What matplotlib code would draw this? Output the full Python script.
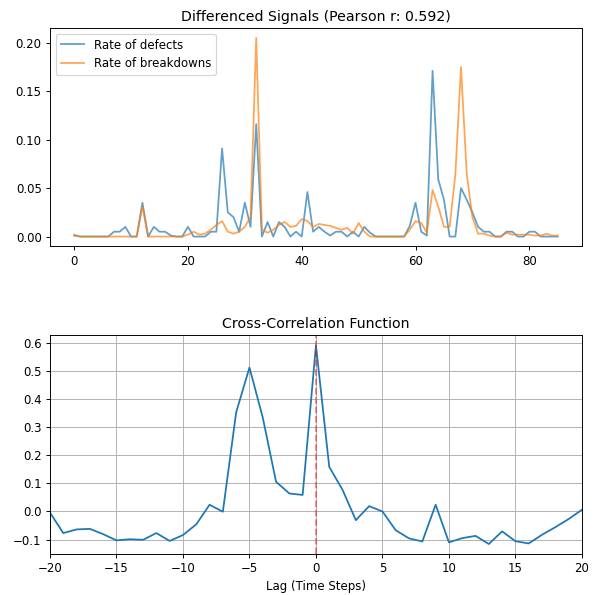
import numpy as np
import matplotlib
matplotlib.use('Agg')
import matplotlib.pyplot as plt

# differenced signals, index 0..85
defects = [0.001, 0, 0, 0, 0, 0, 0, 0.005, 0.005, 0.010,
           0, 0, 0.035, 0, 0.010, 0.005, 0.005, 0.001, 0, 0,
           0.010, 0, 0, 0, 0.005, 0.005, 0.091, 0.025, 0.020, 0.005,
           0.035, 0.010, 0.116, 0, 0.015, 0, 0.015, 0.010, 0, 0.005,
           0, 0.046, 0.005, 0.010, 0.005, 0.001, 0.005, 0.005, 0, 0.005,
           0, 0.010, 0.004, 0, 0, 0, 0, 0, 0, 0.011,
           0.035, 0.005, 0.001, 0.171, 0.059, 0.038, 0, 0, 0.050, 0.038,
           0.025, 0.010, 0.005, 0.005, 0, 0, 0.005, 0.005, 0, 0,
           0.005, 0.005, 0, 0, 0, 0]
breakdowns = [0.002, 0, 0, 0, 0, 0, 0, 0, 0, 0,
              0, 0, 0.031, 0, 0, 0, 0, 0, 0, 0,
              0.002, 0.005, 0.002, 0.003, 0.007, 0.012, 0.016, 0.005, 0.003, 0.005,
              0.010, 0.020, 0.205, 0.007, 0.004, 0.007, 0.012, 0.015, 0.010, 0.011,
              0.018, 0.016, 0.010, 0.013, 0.012, 0.011, 0.009, 0.007, 0.009, 0.003,
              0.014, 0.005, 0, 0, 0, 0, 0, 0, 0, 0.007,
              0.016, 0.014, 0.004, 0.048, 0.031, 0.010, 0.010, 0.064, 0.175, 0.065,
              0.020, 0.003, 0.003, 0.001, 0, 0, 0.004, 0.002, 0.002, 0.002,
              0.002, 0.001, 0.001, 0.003, 0.001, 0.001]

lags = list(range(-20, 21))
ccf = [-0.004, -0.077, -0.064, -0.062, -0.081, -0.103, -0.099, -0.101, -0.077, -0.105,
       -0.084, -0.046, 0.024, -0.001, 0.353, 0.513, 0.335, 0.106, 0.064, 0.059,
       0.592,
       0.159, 0.077, -0.031, 0.019, 0.000, -0.067, -0.096, -0.107, 0.024, -0.110,
       -0.095, -0.087, -0.116, -0.071, -0.106, -0.114, -0.083, -0.056, -0.027, 0.006]

pearson_r = 0.592

fig, (ax1, ax2) = plt.subplots(2, 1, figsize=(7, 7), dpi=85)

ax1.plot(defects, label='Rate of defects', alpha=0.7)
ax1.plot(breakdowns, label='Rate of breakdowns', alpha=0.7)
ax1.set_title(f'Differenced Signals (Pearson r: {pearson_r:.3f})')
ax1.legend(loc='upper left')

ax2.plot(lags, ccf)
ax2.axvline(0, color='r', linestyle='--', alpha=0.5)
ax2.set_title('Cross-Correlation Function')
ax2.set_xlabel('Lag (Time Steps)')
ax2.set_xlim(-20, 20)
ax2.grid(True)

plt.subplots_adjust(left=0.084, right=0.978, top=0.953, bottom=0.069, hspace=0.407)
plt.savefig('out.png')
